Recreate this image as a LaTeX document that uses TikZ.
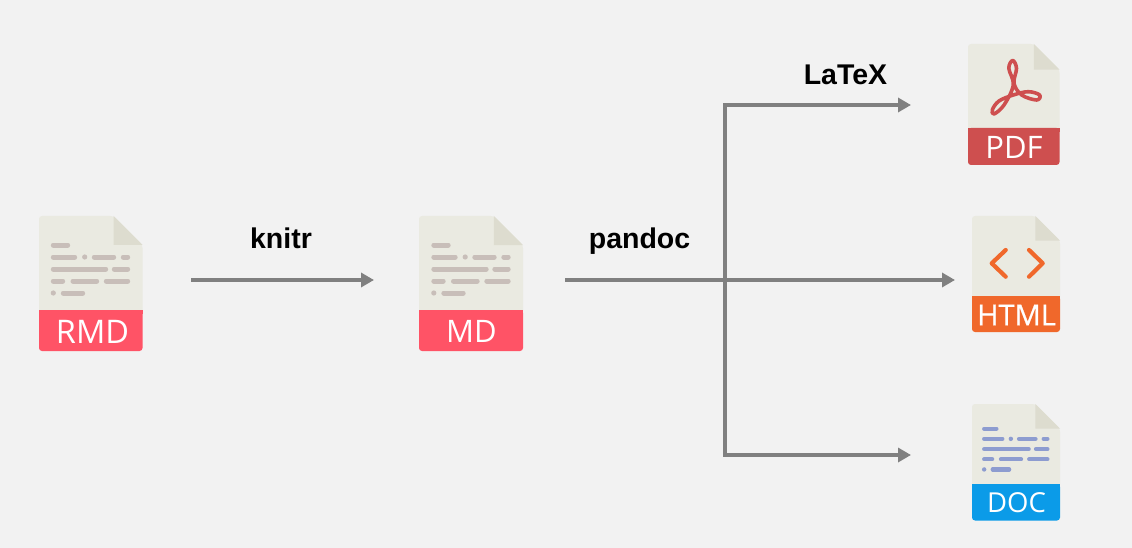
\documentclass[tikz,border=0pt]{standalone}
\usepackage{fontspec}
\setmainfont{Liberation Sans}
\newfontfamily\bandfont{Open Sans}
\newfontfamily\bandheavy[FakeBold=0.6]{Open Sans}
\usetikzlibrary{arrows.meta}
\definecolor{bgc}{HTML}{F2F2F2}
\definecolor{bodyc}{HTML}{EAEAE1}
\definecolor{foldc}{HTML}{DDDCCF}
\definecolor{linec}{HTML}{C8BEB9}
\definecolor{docline}{HTML}{8D9CD0}
\definecolor{rmdc}{HTML}{FF5366}
\definecolor{pdfc}{HTML}{CE4F4F}
\definecolor{htmlc}{HTML}{F0682B}
\definecolor{docc}{HTML}{0B9BE8}
\definecolor{arrowc}{HTML}{808080}
\newcommand{\fileicon}[6]{%
  \pgfmathsetmacro{\foldx}{#2-0.28*(#2-#1)}%
  \pgfmathsetmacro{\foldy}{#3+0.28*(#2-#1)}%
  \fill[bodyc,rounded corners=3] (#1,#5+3) -- (#1,#3) -- (\foldx,#3) -- (#2,\foldy) -- (#2,#5+3) -- cycle;
  \fill[foldc] (\foldx,#3) -- (#2,\foldy) -- (\foldx,\foldy) -- cycle;
  \fill[#6,rounded corners=3] (#1,#5) -- (#1,#4) -- (#2,#4) -- (#2,#5) -- cycle;
  \fill[#6] (#1,#5) rectangle (#2,#5+4);
}
\newcommand{\textrows}[3]{%
  \begin{scope}[shift={(#1,#2)},scale=#3]
    \draw[textrow] (14.3,29) -- (28.7,29);
    \draw[textrow] (14.3,41) -- (35.7,41);
    \fill[textdot] (45.7,41) circle (2.6);
    \draw[textrow] (55.3,41) -- (74.7,41);
    \draw[textrow] (84.3,41) -- (88.7,41);
    \draw[textrow] (14.3,53) -- (66.7,53);
    \draw[textrow] (75.3,53) -- (88.7,53);
    \draw[textrow] (14.3,65) -- (23.7,65);
    \draw[textrow] (34,65) -- (57.7,65);
    \draw[textrow] (67.3,65) -- (88.7,65);
    \fill[textdot] (14.3,77) circle (2.6);
    \draw[textrow] (24.3,77) -- (43.7,77);
  \end{scope}
}
\tikzset{
  x=1pt,y=-1pt,
  flow/.style={draw=arrowc,line width=4pt,-{Triangle[length=13pt,width=14pt]}},
  trunk/.style={draw=arrowc,line width=4pt},
  steplabel/.style={font=\fontsize{28.5}{32}\selectfont\bfseries,text=black,inner sep=0pt},
  bandlabel/.style={font=\bandfont\fontsize{#1}{32}\selectfont,text=white,inner sep=0pt},
  heavylabel/.style={font=\bandheavy\fontsize{#1}{32}\selectfont,text=white,inner sep=0pt},
  textrow/.style={draw=linec,line width=5pt,line cap=round},
  textdot/.style={fill=linec},
  symbolline/.style={line cap=round,line join=round}
}
\begin{document}
\begin{tikzpicture}
\fill[bgc] (0,0) rectangle (1132,548);
\useasboundingbox (0,0) rectangle (1132,548);
% icons
\fileicon{39}{142.5}{216}{351}{310}{rmdc}
\textrows{39}{216}{1}
\node[bandlabel=32.5] (rmdtext) at (92.5,331.5) {RMD};
\fileicon{419}{523}{216}{351}{310}{rmdc}
\textrows{419.5}{216}{1}
\node[bandlabel=31] (mdtext) at (471.5,331.5) {MD};
\fileicon{968}{1059.5}{44}{165}{128}{pdfc}
\node[bandlabel=31] (pdftext) at (1014,147) {PDF};
\draw[pdfc,line width=3.6pt,symbolline] plot[smooth cycle,tension=0.6] coordinates {
 (994,114) (1004,105) (1013.3,85) (1008.8,68.3) (1012.7,60.5) (1016.5,68.3) (1014,83.3)
 (1021.7,95) (1036.7,100) (1039.6,95) (1028.3,91.7) (1013.3,95) (999,101) (992.5,109.5)};
\fileicon{972}{1060}{216}{332}{296}{htmlc}
\node[heavylabel=29] (htmltext) at (1016.5,315) {HTML};
\draw[htmlc,line width=4.2pt,symbolline] (1005.7,250) -- (991.7,263.3) -- (1005.7,276.7);
\draw[htmlc,line width=4.2pt,symbolline] (1029,250) -- (1042.7,263.3) -- (1029,276.7);
\fileicon{972}{1060}{404}{520.5}{484}{docc}
\tikzset{textrow/.style={draw=docline,line width=4.2pt,line cap=round},textdot/.style={fill=docline}}
\textrows{972}{404}{0.85}
\node[bandlabel=27.5] (doctext) at (1016.5,503) {DOC};
% connector ends
\coordinate (knitrstart) at (191,280);
\coordinate (knitrend) at (374,280);
\coordinate (pandocstart) at (565,280);
\coordinate (htmlend) at (955,280);
\coordinate (branchtop) at (725,105);
\coordinate (branchbottom) at (725,455);
\coordinate (pdfend) at (911,105);
\coordinate (docend) at (911,455);
% connectors
\draw[flow] (knitrstart) -- (knitrend);
\draw[flow] (pandocstart) -- (htmlend);
\draw[trunk,line cap=rect] (branchtop) -- (branchbottom);
\draw[flow] (branchtop) -- (pdfend);
\draw[flow] (branchbottom) -- (docend);
% labels
\node[steplabel] (knitr) at (281,238) {knitr};
\node[steplabel] (pandoc) at (639.5,241) {pandoc};
\node[steplabel] (latex) at (845.5,74.5) {LaTeX};
\end{tikzpicture}
\end{document}
